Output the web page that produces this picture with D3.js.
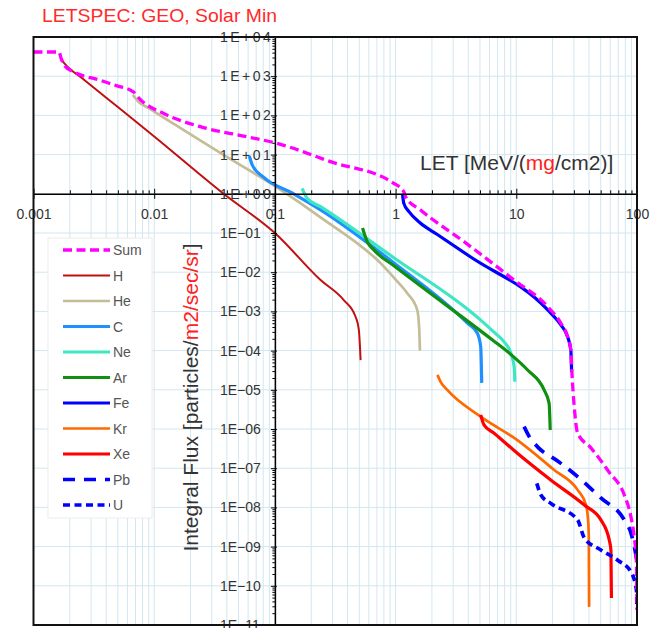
<!DOCTYPE html>
<html>
<head>
<meta charset="utf-8">
<script src="https://cdn.jsdelivr.net/npm/d3@7"></script>
<style>
  body { margin: 0; background: #fff; }
  text { font-family: "Liberation Sans", Arial, sans-serif; }
</style>
</head>
<body>
<script>
// [LET, integral flux] pairs
var sumData = [[0.001, 4140], [0.00163, 4140], [0.00169, 2900], [0.00182, 1820], [0.00214, 1300],
  [0.0035, 800], [0.005, 560], [0.00632, 445], [0.0067, 400], [0.0077, 250], [0.0119, 113],
  [0.0241, 51.5], [0.0587, 28.6], [0.104, 19.4], [0.289, 6.6], [0.968, 1.85], [1.17, 1.13],
  [1.21, 0.84], [1.61, 0.386], [3.69, 0.06], [9.6, 6.3e-3], [18.2, 1.32e-3], [23.4, 5.0e-4],
  [26.6, 2.26e-4], [28.3, 1.03e-4], [28.9, 2.7e-5], [30.2, 3.7e-6], [32.2, 7.9e-7], [41.5, 3.3e-7],
  [58.6, 8.0e-8], [78.5, 2.07e-8], [89.2, 5.6e-9], [94.8, 1.76e-9], [99.0, 3.8e-10], [99.9, 2.4e-11]];
var hData = [[0.00164, 3700], [0.00172, 2600], [0.00185, 1950], [0.0025, 918], [0.005, 163],
  [0.01, 29], [0.0376, 1.0], [0.1, 0.1], [0.239, 6.3e-3], [0.372, 1.95e-3], [0.466, 7.3e-4],
  [0.496, 3.4e-4], [0.513, 5.7e-5]];
var heData = [[0.00665, 331], [0.0074, 224], [0.009, 153], [0.015, 57], [0.0353, 11], [0.104, 1.45],
  [0.239, 0.25], [0.75, 0.017], [1.0, 6.5e-3], [1.25, 2.9e-3], [1.51, 1.09e-3], [1.57, 3.5e-4],
  [1.59, 1.0e-4]];
var cData = [[0.0614, 9.2], [0.065, 5.4], [0.08, 2.7], [0.143, 1.0], [0.239, 0.39], [1.0, 0.016],
  [3.94, 5.0e-4], [4.76, 2.76e-4], [5.07, 1.26e-4], [5.17, 1.5e-5]];
var neData = [[0.168, 1.38], [0.185, 0.77], [0.239, 0.47], [1.0, 0.0217], [4.0, 1.1e-3],
  [5.07, 6.0e-4], [6.5, 3.0e-4], [7.9, 1.7e-4], [9.0, 8.7e-5], [9.6, 3.9e-5], [9.72, 1.6e-5]];
var arData = [[0.532, 0.134], [0.582, 0.06], [0.66, 0.037], [1.0, 0.0136], [2.5, 1.62e-3],
  [6.35, 1.86e-4], [9.0, 8.0e-5], [12.4, 3.2e-5], [17.0, 9.9e-6], [18.7, 4.5e-6], [19.1, 9.4e-7]];
var feData = [[1.14, 1.0], [1.17, 0.57], [1.29, 0.35], [1.61, 0.177], [2.2, 0.093], [4.19, 0.0244],
  [18.2, 1.09e-3], [23.4, 4.5e-4], [26.6, 2.26e-4], [28.3, 1.03e-4], [28.7, 2.9e-5]];
var krData = [[2.22, 2.4e-5], [2.36, 1.6e-5], [2.68, 9.9e-6], [5.07, 2.06e-6], [10.2, 5.2e-7],
  [20.6, 9.0e-8], [32.2, 2.8e-8], [37.8, 1.15e-8], [39.5, 3.9e-9], [39.9, 1.5e-9], [40.1, 2.9e-11]];
var xeData = [[5.07, 2.3e-6], [5.4, 1.27e-6], [6.55, 7.8e-7], [10.2, 2.4e-7], [19.3, 5.0e-8],
  [36.6, 1.15e-8], [50.2, 4.8e-9], [58.9, 1.47e-9], [60.8, 8.2e-10], [61.4, 4.9e-11]];
var pbData = [[11.6, 1.15e-6], [12.8, 6.4e-7], [15.0, 3.5e-7], [22.0, 1.53e-7], [32.2, 6.1e-8],
  [50.2, 1.74e-8], [78.5, 4.8e-9], [89.2, 2.2e-9], [96.2, 8.2e-10], [99.5, 4.6e-10]];
var uData = [[14.8, 4.1e-8], [16.0, 2.07e-8], [19.3, 1.27e-8], [32.2, 4.8e-9], [36.6, 1.66e-9],
  [50.2, 8.2e-10], [69.2, 4.5e-10], [89.2, 2.25e-10], [99, 7.8e-11], [99.9, 3.1e-11]];

var seriesNames = ["Sum", "H", "He", "C", "Ne", "Ar", "Fe", "Kr", "Xe", "Pb", "U"];
var seriesData = [sumData, hData, heData, cData, neData, arData, feData, krData, xeData, pbData, uData];
var seriesColors = ["#ff00ff", "#c01010", "#c4bd97", "#1e90ff", "#3ee6c4", "#109010",
  "#0000ff", "#ff6a00", "#ff0000", "#0000ff", "#0000ff"];
var seriesDash = ["9,4.5", null, null, null, null, null, null, null, null, "12,9", "7,4.5"];
var seriesWidth = [3.3, 2, 2.7, 3.2, 3.2, 3.2, 3.2, 2.7, 3.2, 3.7, 3.7];

var xTicks = [0.001, 0.01, 0.1, 1, 10, 100];
var xTickLabels = ["0.001", "0.01", "0.1", "1", "10", "100"];
var yTicks = [1e4, 1e3, 1e2, 1e1, 1, 1e-1, 1e-2, 1e-3, 1e-4, 1e-5, 1e-6, 1e-7, 1e-8, 1e-9, 1e-10, 1e-11];
var yTickLabels = ["1E+04", "1E+03", "1E+02", "1E+01", "1E+00", "1E\u221201", "1E\u221202", "1E\u221203",
  "1E\u221204", "1E\u221205", "1E\u221206", "1E\u221207", "1E\u221208", "1E\u221209", "1E\u221210", "1E\u221211"];

var svgWidth = 650;
var svgHeight = 628;
var margin = {top: 37, right: 13, bottom: 3, left: 33.5};
var chartWidth = svgWidth - margin.left - margin.right;
var chartHeight = svgHeight - margin.top - margin.bottom;
var gridColor = "#d3e7ef";

var svg = d3.select("body").append("svg")
  .attr("width", svgWidth)
  .attr("height", svgHeight);

var chartGroup = svg.append("g")
  .attr("transform", `translate(${margin.left}, ${margin.top})`);

var xScale = d3.scaleLog().domain([0.001, 100]).range([0, chartWidth]);
var yScale = d3.scaleLog().domain([1e-11, 1e4]).range([chartHeight, 0]);

// minor values (2..9 of every decade)
var xMinor = [];
xTicks.slice(0, -1).forEach(function(d) {
  for (var m = 2; m < 10; m++) xMinor.push(d * m);
});
var yMinor = [];
yTicks.slice(1).forEach(function(d) {
  for (var m = 2; m < 10; m++) yMinor.push(d * m);
});

// gridlines
chartGroup.append("g").selectAll("line")
  .data(xMinor.concat(xTicks.slice(1, -1)))
  .enter().append("line")
  .attr("x1", d => xScale(d)).attr("x2", d => xScale(d))
  .attr("y1", 0).attr("y2", chartHeight)
  .attr("stroke", gridColor).attr("stroke-width", 1);
chartGroup.append("g").selectAll("line")
  .data(yTicks.slice(1, -1))
  .enter().append("line")
  .attr("x1", 0).attr("x2", chartWidth)
  .attr("y1", d => yScale(d)).attr("y2", d => yScale(d))
  .attr("stroke", gridColor).attr("stroke-width", 1);

// legend box
var legendGroup = svg.append("g");
legendGroup.append("rect")
  .attr("x", 48).attr("y", 238).attr("width", 104).attr("height", 280)
  .attr("fill", "#fff").attr("stroke", "#ececec");

// series lines
chartGroup.append("clipPath").attr("id", "plotClip")
  .append("rect").attr("width", chartWidth).attr("height", chartHeight);

var line = d3.line()
  .x(d => xScale(d[0]))
  .y(d => yScale(d[1]))
  .curve(d3.curveMonotoneX);

var drawOrder = [1, 2, 3, 4, 5, 6, 7, 8, 9, 10, 0];
var linesGroup = chartGroup.append("g").attr("clip-path", "url(#plotClip)");
drawOrder.forEach(function(i) {
  linesGroup.append("path")
    .attr("d", line(seriesData[i]))
    .attr("fill", "none")
    .attr("stroke", seriesColors[i])
    .attr("stroke-width", seriesWidth[i])
    .attr("stroke-dasharray", seriesDash[i]);
});

// x axis through y = 1
var xAxisGroup = chartGroup.append("g")
  .attr("transform", `translate(0, ${yScale(1)})`);
xAxisGroup.append("g")
  .call(d3.axisTop(xScale).tickValues(xMinor).tickSize(3.5).tickSizeOuter(0).tickFormat(""))
  .select(".domain").remove();
xAxisGroup.append("g")
  .call(d3.axisTop(xScale).tickValues(xTicks).tickSize(5).tickSizeOuter(0).tickFormat(""))
  .select(".domain").remove();
var xAxisMain = xAxisGroup.append("g")
  .call(d3.axisBottom(xScale).tickValues(xTicks).tickSize(5).tickSizeOuter(0).tickPadding(10)
    .tickFormat((d, i) => xTickLabels[i]));
xAxisMain.select(".domain").attr("stroke-width", 1.5);
xAxisMain.selectAll("text")
  .attr("font-size", 14).attr("font-family", "'Liberation Sans', Arial, sans-serif").attr("fill", "#333");

// y axis through x = 0.1
var yAxisGroup = chartGroup.append("g")
  .attr("transform", `translate(${xScale(0.1)}, 0)`);
yAxisGroup.append("g")
  .call(d3.axisLeft(yScale).tickValues(yMinor).tickSize(2.5).tickSizeOuter(0).tickFormat(""))
  .select(".domain").remove();
yAxisGroup.append("g")
  .call(d3.axisRight(yScale).tickValues(yTicks).tickSize(2).tickSizeOuter(0).tickFormat(""))
  .select(".domain").remove();
var yAxisMain = yAxisGroup.append("g")
  .call(d3.axisLeft(yScale).tickValues(yTicks).tickSize(4).tickSizeOuter(0)
    .tickFormat((d, i) => yTickLabels[i]));
yAxisMain.select(".domain").attr("stroke-width", 1.5);
yAxisMain.selectAll("text")
  .attr("x", -55).attr("text-anchor", "start")
  .attr("font-size", 14).attr("font-family", "'Liberation Sans', Arial, sans-serif").attr("fill", "#333")
  .each(function(d, i) {
    if (yTickLabels[i].indexOf("+") >= 0) {
      d3.select(this).attr("textLength", 51).attr("lengthAdjust", "spacing");
    }
  });

// plot frame
chartGroup.append("rect")
  .attr("width", chartWidth).attr("height", chartHeight)
  .attr("fill", "none").attr("stroke", "#111").attr("stroke-width", 2);

// legend entries
seriesNames.forEach(function(name, i) {
  var ly = 250 + i * 25.5;
  legendGroup.append("line")
    .attr("x1", 63).attr("x2", 110).attr("y1", ly).attr("y2", ly)
    .attr("stroke", seriesColors[i])
    .attr("stroke-width", seriesWidth[i])
    .attr("stroke-dasharray", seriesDash[i]);
  legendGroup.append("text")
    .attr("x", 113).attr("y", ly + 5)
    .attr("font-size", 14).attr("fill", "#555")
    .text(name);
});

// titles
svg.append("text")
  .attr("x", 42).attr("y", 21.5)
  .attr("font-size", 19).attr("fill", "#ff2a2a")
  .attr("textLength", 235).attr("lengthAdjust", "spacingAndGlyphs")
  .text("LETSPEC: GEO, Solar Min");

var xTitle = svg.append("text")
  .attr("x", 420).attr("y", 170)
  .attr("font-size", 21).attr("fill", "#333");
xTitle.append("tspan").text("LET [MeV/(");
xTitle.append("tspan").attr("fill", "#ff2020").text("mg");
xTitle.append("tspan").text("/cm2)]");

var yTitle = svg.append("text")
  .attr("transform", "translate(198, 397.5) rotate(-90)")
  .attr("text-anchor", "middle")
  .attr("font-size", 21).attr("fill", "#333");
yTitle.append("tspan").text("Integral Flux [particles/");
yTitle.append("tspan").attr("fill", "#ff2020").text("m2/sec/sr");
yTitle.append("tspan").text("]");
</script>
</body>
</html>
